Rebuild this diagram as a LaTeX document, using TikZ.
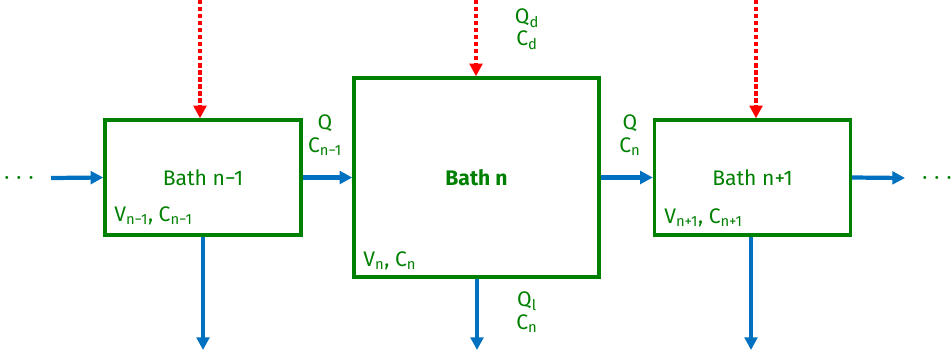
\documentclass[tikz,border=0pt]{standalone}
\usepackage{fontspec}
\setmainfont{Fira Sans}
\usetikzlibrary{arrows.meta}
\definecolor{bathgreen}{RGB}{0,128,0}
\definecolor{flowblue}{RGB}{0,112,192}
\begin{document}
\begin{tikzpicture}[x=0.025cm, y=-0.025cm,
  bath/.style={draw=bathgreen, line width=2.4pt, text=bathgreen, font=\fontsize{15}{16}\selectfont},
  lbl/.style={text=bathgreen, align=center, inner sep=0pt, font=\fontsize{15}{16}\selectfont},
  flow/.style={draw=flowblue, line width=3pt, -{Triangle[length=9pt,width=9pt]}},
  dose/.style={draw=red, line width=3pt, dash pattern=on 3pt off 2pt, -{Triangle[length=9pt,width=9pt]}}]
\useasboundingbox (0,0) rectangle (952,358);
\node[bath, minimum width=4.9cm, minimum height=2.875cm] (b1) at (203,177.5) {Bath n−1};
\node[bath, minimum width=6.125cm, minimum height=4.975cm] (b2) at (476.5,177.5) {\textbf{Bath n}};
\node[bath, minimum width=4.9cm, minimum height=2.875cm] (b3) at (752.5,177.5) {Bath n+1};
\node[lbl, anchor=west] (v1) at (114,216) {V\textsubscript{n−1}, C\textsubscript{n−1}};
\node[lbl, anchor=west] (v2) at (363,261) {V\textsubscript{n}, C\textsubscript{n}};
\node[lbl, anchor=west] (v3) at (664,218) {V\textsubscript{n+1}, C\textsubscript{n+1}};
\node[lbl] (q1) at (325,135) {Q\\C\textsubscript{n−1}};
\node[lbl] (q2) at (630,135) {Q\\C\textsubscript{n}};
\node[lbl] (qd) at (527,29) {Q\textsubscript{d}\\C\textsubscript{d}};
\node[lbl] (ql) at (527,312) {Q\textsubscript{l}\\C\textsubscript{n}};
\node[lbl] (dl) at (19,180) {·\,\,·\,\,·};
\node[lbl] (dr) at (937,180) {·\,\,·\,\,·};
% side flows
\coordinate (in) at (51,178);
\coordinate (out) at (905,178);
\draw[flow] (in) -- (b1.west);
\draw[flow] (b1.east) -- (b2.west);
\draw[flow] (b2.east) -- (b3.west);
\draw[flow] (b3.east) -- (out);
% dosing from the top
\coordinate (d1) at (200,0);
\coordinate (d2) at (476,0);
\coordinate (d3) at (756,0);
\draw[dose] (d1) -- (d1 |- b1.north);
\draw[dose] (d2) -- (d2 |- b2.north);
\draw[dose] (d3) -- (d3 |- b3.north);
% losses at the bottom
\coordinate (o1) at (203,350);
\coordinate (o2) at (477,350);
\coordinate (o3) at (751,350);
\draw[flow] (b1.south -| o1) -- (o1);
\draw[flow] (b2.south -| o2) -- (o2);
\draw[flow] (b3.south -| o3) -- (o3);
\end{tikzpicture}
\end{document}
